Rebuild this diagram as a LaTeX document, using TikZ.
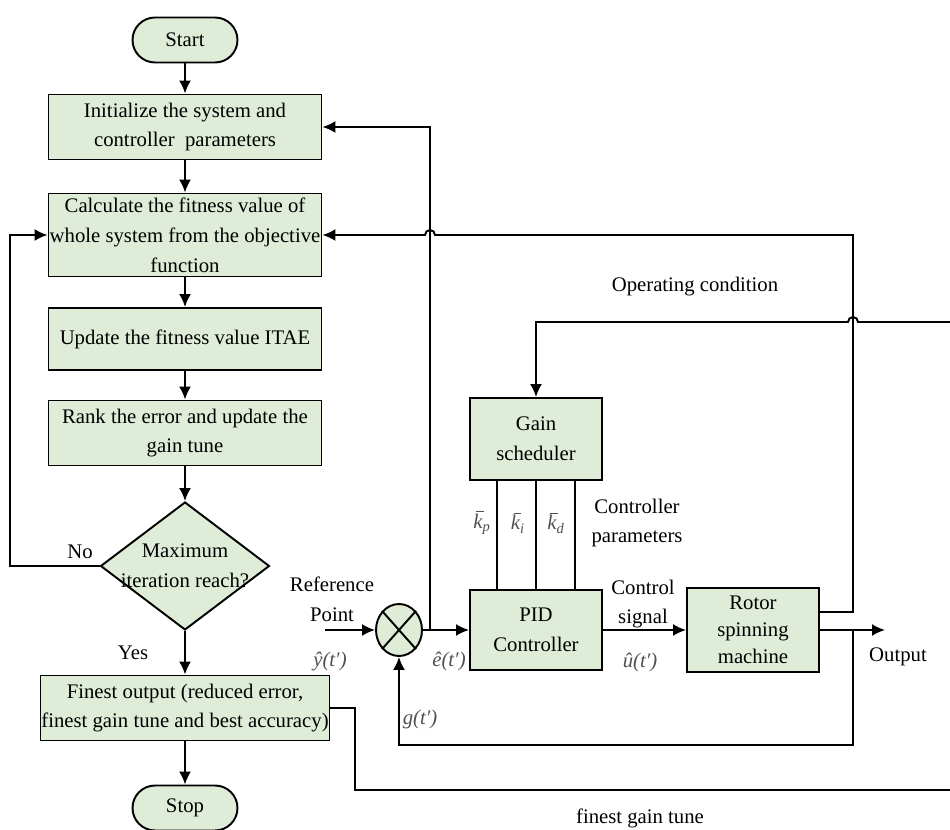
\documentclass[tikz,border=0pt]{standalone}
\usepackage{fontspec}
\setmainfont{Liberation Serif}
\usetikzlibrary{arrows.meta,positioning,calc,shapes.geometric}
\definecolor{BoxGreen}{HTML}{DFECD8}
\definecolor{LabelGray}{HTML}{505050}
\newcommand{\gainbar}{\leavevmode\rlap{\kern1.6pt\raisebox{0.78em}{\rule{0.36em}{0.5pt}}}k}

\tikzset{
  stepbox/.style={draw, fill=BoxGreen, line width=1.1pt, align=center, inner sep=0pt, minimum width=5.46cm},
  termbox/.style={draw, fill=BoxGreen, line width=1.1pt, rounded corners=0.45cm, minimum width=2.1cm, minimum height=0.9cm},
  decision/.style={draw, fill=BoxGreen, diamond, line width=1.1pt, inner sep=0pt, minimum width=3.38cm, minimum height=2.56cm},
  blockbox/.style={draw, fill=BoxGreen, line width=1.1pt, align=center, inner sep=0pt, minimum width=2.64cm},
  sumjunc/.style={draw, fill=BoxGreen, ellipse, line width=1.1pt, minimum width=0.92cm, minimum height=1.04cm, inner sep=0pt},
  flow/.style={line width=1.1pt, -{Latex[length=2.6mm,width=2.4mm]}},
  wire/.style={line width=1.1pt},
  siglab/.style={text=LabelGray, inner sep=1pt, font=\fontsize{11.8}{14}\selectfont\itshape},
}

\begin{document}
\begin{tikzpicture}[x=0.02cm, y=-0.02cm, font=\fontsize{11.8}{17}\selectfont]
  \useasboundingbox (0,0) rectangle (950,830);

  % flow chart
  \node[termbox] (start) at (185,40) {Start};
  \node[stepbox, minimum height=1.3cm] (init) at (185,127) {Initialize the system and\\controller~ parameters};
  \node[stepbox, minimum height=1.66cm] (calc) at (185,235) {Calculate the fitness value of\\whole system from the objective\\function};
  \node[stepbox, minimum height=1.24cm] (upd) at (185,339) {Update the fitness value ITAE};
  \node[stepbox, minimum height=1.3cm] (rank) at (185,433) {Rank the error and update the\\gain tune};
  \node[decision] (dec) at (185,566) {};
  \node[align=center] (dectext) at (dec) {Maximum\\iteration reach?};
  \node[stepbox, minimum width=5.78cm, minimum height=1.3cm] (fin) at (185,708) {Finest output (reduced error,\\finest gain tune and best accuracy)};
  \node[termbox] (stop) at (185,808) {Stop};

  \foreach \a/\b in {start/init, init/calc, calc/upd, upd/rank, rank/dec, dec/fin, fin/stop}
    \draw[flow] (\a) -- (\b);

  \coordinate (noturn) at (10,566);
  \draw[flow] (dec.west) -- (noturn) |- (calc.west);
  \node (no) at (80,552) {No};
  \node (yes) at (133,653) {Yes};

  % control loop
  \node[sumjunc] (sum) at (399,630) {};
  \draw[line width=1.1pt] (sum.north west) -- (sum.south east) (sum.north east) -- (sum.south west);
  \node[blockbox, minimum height=1.64cm] (gain) at (536,439) {Gain\\scheduler};
  \node[blockbox, minimum height=1.6cm] (pid) at (536,630) {PID\\Controller};
  \node[blockbox, minimum height=1.68cm, font=\fontsize{11.8}{15.5}\selectfont] (rotor) at (753,630) {Rotor\\spinning\\machine};

  \coordinate (refin) at (325,630);
  \coordinate (br) at (430,630);
  \coordinate (rtcorner) at (853,235);
  \coordinate (rtap) at ([yshift=0.36cm]rotor.east);
  \coordinate (fbtap) at (853,630);
  \coordinate (fbcorner) at (853,745);
  \coordinate (outend) at (885,630);
  \coordinate (opin) at (950,322);
  \coordinate (ftturn) at (355,790);
  \coordinate (ftend) at (950,790);

  \draw[flow] (refin) -- (sum.west);
  \draw[flow] (sum.east) -- (pid.west);
  \draw[flow] (br) |- (init.east);
  \draw[flow] (pid.east) -- (rotor.west);
  \draw[flow] (rotor.east) -- (outend);
  \draw[flow] (fbtap) -- (fbcorner) -| (sum.south);
  \draw[flow] (rtap) -| (rtcorner) -- ($(calc.east -| br)+(5,0)$) arc[start angle=0, end angle=180, radius=0.1cm] -- (calc.east);
  \draw[flow] (opin) -- ($(opin -| rtcorner)+(5,0)$) arc[start angle=0, end angle=180, radius=0.1cm] -| (gain.north);
  \draw[wire] (fin.east) -| (ftturn) -- (ftend);
  \foreach \dx in {-39,0,39}
    \draw[wire] ([xshift=\dx*0.02cm]gain.south) -- ([xshift=\dx*0.02cm]pid.north);

  % labels
  \node (oplab) at (695,287) {Operating condition};
  \node[align=center] (reflab) at (332,599) {Reference\\Point};
  \node[siglab] (ylab) at (330,662) {ŷ(t′)};
  \node[siglab] (elab) at (449,662) {ê(t′)};
  \node[siglab] (glab) at (420,720) {g(t′)};
  \node[siglab] (ulab) at (640,663) {û(t′)};
  \node[siglab] (kp) at (482,523) {\gainbar\textsubscript{p}};
  \node[siglab] (ki) at (518,523) {\gainbar\textsubscript{i}};
  \node[siglab] (kd) at (556,523) {\gainbar\textsubscript{d}};
  \node[align=center] (cplab) at (637,523) {Controller\\parameters};
  \node[align=center] (cslab) at (643,604) {Control\\signal};
  \node (outlab) at (898,657) {Output};
  \node (ftlab) at (640,818) {finest gain tune};
\end{tikzpicture}
\end{document}
